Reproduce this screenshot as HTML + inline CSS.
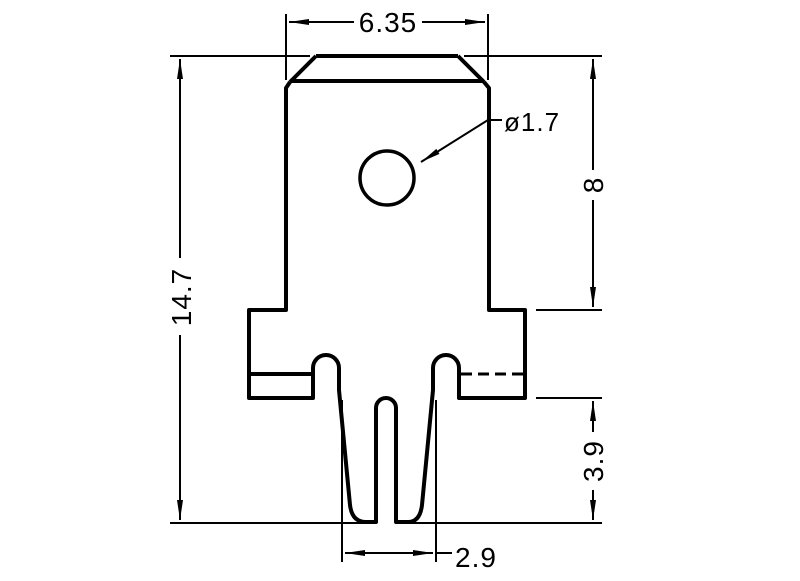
<!DOCTYPE html>
<html><head><style>html,body{margin:0;padding:0;background:#fff;}</style></head>
<body>
<svg width="800" height="576" viewBox="0 0 800 576" xmlns="http://www.w3.org/2000/svg">
<defs>
<marker id="a" viewBox="0 0 20 8" refX="20" refY="4" markerWidth="20" markerHeight="8" markerUnits="userSpaceOnUse" orient="auto-start-reverse">
<path d="M0,1 L20,4 L0,7 Z" fill="#000"/>
</marker>
</defs>
<g fill="none" stroke="#000" stroke-width="4" stroke-linejoin="round">
<polyline points="316,56 458,56"/>
<polyline points="316,56 290,82"/>
<polyline points="458,56 484,82"/>
<line x1="290" y1="81" x2="484" y2="81"/>
<path d="M290,82 L286,88 L286,310 L249,310 L249,398 L313,398 L313,368
 A13,13 0 0 1 339,368 L339,390 L350,505 Q352,522 366,522 L376,522
 L376,408 A10,10 0 0 1 396,408 L396,522 L408,522 Q420,522 422,505 L433,390 L433,368
 A13,13 0 0 1 459,368 L459,398 L525,398 L525,310 L489,310 L489,88 L484,82"/>
<line x1="249" y1="374" x2="313" y2="374"/>
<line x1="461" y1="374" x2="525" y2="374" stroke-dasharray="11,6" stroke-width="3"/>
<circle cx="387" cy="178" r="27" stroke-width="3.5"/>
</g>
<g stroke="#000" stroke-width="2" fill="none">
<line x1="286" y1="14" x2="286" y2="80"/>
<line x1="488" y1="14" x2="488" y2="80"/>
<line x1="289" y1="22" x2="354" y2="22" marker-start="url(#a)"/>
<line x1="422" y1="22" x2="485" y2="22" marker-end="url(#a)"/>
<line x1="170" y1="56" x2="310" y2="56"/>
<line x1="464" y1="56" x2="602" y2="56"/>
<line x1="170" y1="523" x2="372" y2="523"/>
<line x1="400" y1="523" x2="602" y2="523"/>
<line x1="180" y1="59" x2="180" y2="258" marker-start="url(#a)"/>
<line x1="180" y1="335" x2="180" y2="520" marker-end="url(#a)"/>
<line x1="593" y1="59" x2="593" y2="170" marker-start="url(#a)"/>
<line x1="593" y1="200" x2="593" y2="307" marker-end="url(#a)"/>
<line x1="536" y1="310" x2="602" y2="310"/>
<line x1="536" y1="398" x2="602" y2="398"/>
<line x1="593" y1="401" x2="593" y2="432" marker-start="url(#a)"/>
<line x1="593" y1="490" x2="593" y2="520" marker-end="url(#a)"/>
<line x1="342" y1="400" x2="342" y2="562"/>
<line x1="436" y1="400" x2="436" y2="562"/>
<line x1="345" y1="553" x2="433" y2="553" marker-start="url(#a)" marker-end="url(#a)"/>
<line x1="436" y1="553" x2="452" y2="553"/>
<line x1="488" y1="120" x2="502" y2="120"/>
<line x1="488" y1="120" x2="421" y2="162" marker-end="url(#a)"/>
</g>
<g font-family="Liberation Sans, sans-serif" font-size="28" fill="#000" letter-spacing="1">
<text x="388" y="32" text-anchor="middle">6.35</text>
<text x="504" y="131" font-size="26">ø1.7</text>
<text x="455" y="567">2.9</text>
<text transform="translate(191,297) rotate(-90)" text-anchor="middle">14.7</text>
<text transform="translate(603,185) rotate(-90)" text-anchor="middle">8</text>
<text transform="translate(603,461) rotate(-90)" text-anchor="middle">3.9</text>
</g>
</svg>
</body></html>
